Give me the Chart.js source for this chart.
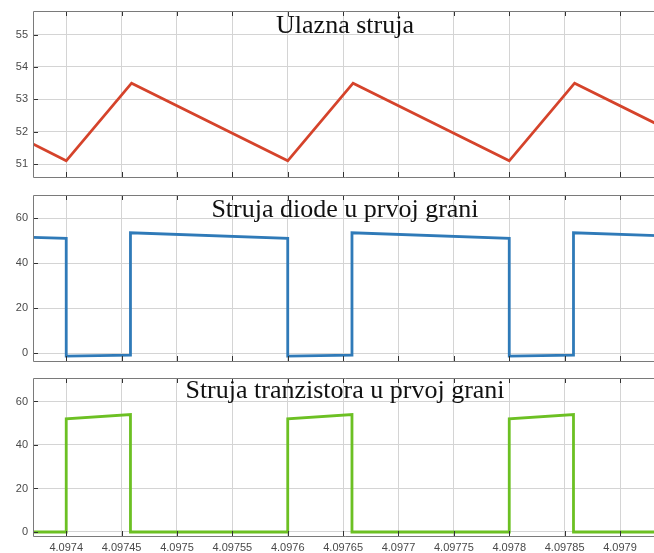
<!DOCTYPE html>
<html>
<head>
<meta charset="utf-8">
<script src="https://cdn.jsdelivr.net/npm/chart.js@4"></script>
<style>
  html, body { margin: 0; padding: 0; background: #fff; overflow: hidden; }
  body { width: 654px; height: 553px; position: relative; }
  .panel { position: absolute; left: 0; width: 660px; }
</style>
</head>
<body>
<div class="panel" style="top:0;height:182px"><canvas id="c1"></canvas></div>
<div class="panel" style="top:184px;height:182px"><canvas id="c2"></canvas></div>
<div class="panel" style="top:367px;height:186px"><canvas id="c3"></canvas></div>
<script>
// time ticks shared by all three panels
const xTicks = [4.0974, 4.09745, 4.0975, 4.09755, 4.0976, 4.09765, 4.0977, 4.09775, 4.0978, 4.09785, 4.0979];
const xTickLabels = ["4.0974", "4.09745", "4.0975", "4.09755", "4.0976", "4.09765", "4.0977", "4.09775", "4.0978", "4.09785", "4.0979"];

// Ulazna struja
const inputTime = [4.09737, 4.0974, 4.097459, 4.0976, 4.097659, 4.0978, 4.097859, 4.09794];
const inputCurrent = [51.62, 51.1, 53.5, 51.1, 53.5, 51.1, 53.5, 52.12];
const inputTicks = [51, 52, 53, 54, 55];

// Struja diode
const diodeTime = [4.09737, 4.0974, 4.0974, 4.097458, 4.097458, 4.0976, 4.0976, 4.097658, 4.097658, 4.0978, 4.0978, 4.097858, 4.097858, 4.09794];
const diodeCurrent = [51.6, 51.1, -1.2, -0.8, 53.6, 51.1, -1.2, -0.8, 53.6, 51.1, -1.2, -0.8, 53.6, 52.2];

// Struja tranzistora
const transTime = [4.09737, 4.0974, 4.0974, 4.097458, 4.097458, 4.0976, 4.0976, 4.097658, 4.097658, 4.0978, 4.0978, 4.097858, 4.097858, 4.09794];
const transCurrent = [0, 0, 52, 54, 0, 0, 52, 54, 0, 0, 52, 54, 0, 0];
const switchTicks = [0, 20, 40, 60];

const frame = {
  id: "frame",
  afterDraw(chart, args, opts) {
    const c = chart.ctx, a = chart.chartArea;
    const xs = chart.scales.x, ys = chart.scales.y;
    c.save();
    c.strokeStyle = "#333";
    c.lineWidth = 1;
    c.beginPath();
    // inward tick marks like the original
    xTicks.forEach(v => {
      const px = Math.round(xs.getPixelForValue(v)) + 0.5;
      c.moveTo(px, a.bottom); c.lineTo(px, a.bottom - 5);
      c.moveTo(px, a.top); c.lineTo(px, a.top + 5);
    });
    opts.yTicks.forEach(v => {
      const py = Math.round(ys.getPixelForValue(v)) + 0.5;
      c.moveTo(a.left, py); c.lineTo(a.left + 5, py);
    });
    c.stroke();
    c.strokeStyle = "#7a7a7a";
    c.beginPath();
    c.moveTo(a.right, Math.round(a.top) + 0.5);
    c.lineTo(Math.round(a.left) + 0.5, Math.round(a.top) + 0.5);
    c.lineTo(Math.round(a.left) + 0.5, Math.round(a.bottom) + 0.5);
    c.lineTo(a.right, Math.round(a.bottom) + 0.5);
    c.stroke();
    c.fillStyle = "#111";
    c.font = "26px 'Liberation Serif'";
    c.textAlign = "center";
    c.textBaseline = "alphabetic";
    c.fillText(opts.title, (a.left + a.right) / 2, a.top + opts.titleOffset);
    c.restore();
  }
};

function makeChart(id, time, values, color, yMin, yMax, yTicks, title, titleOffset, showX) {
  new Chart(document.getElementById(id), {
    type: "line",
    data: {
      datasets: [{
        data: time.map((t, i) => ({ x: t, y: values[i] })),
        borderColor: color,
        borderWidth: 2.8,
        pointRadius: 0,
        tension: 0,
        fill: false
      }]
    },
    options: {
      responsive: true,
      maintainAspectRatio: false,
      animation: false,
      layout: { padding: { top: 11, right: 3, bottom: showX ? 0 : 5, left: 0 } },
      plugins: {
        legend: { display: false },
        tooltip: { enabled: false },
        frame: { title: title, titleOffset: titleOffset, yTicks: yTicks }
      },
      scales: {
        x: {
          type: "linear",
          min: 4.09737,
          max: 4.0979334,
          afterBuildTicks: s => { s.ticks = xTicks.map(v => ({ value: v })); },
          afterFit: s => { s.height = showX ? 17 : 0; s.paddingLeft = 0; s.paddingRight = 0; },
          grid: { color: "#d4d4d4", drawTicks: false },
          border: { display: false },
          ticks: {
            display: showX,
            padding: 5,
            maxRotation: 0,
            autoSkip: false,
            color: "#4a4a4a",
            font: { family: "'Liberation Sans', Arial", size: 11 },
            callback: v => xTickLabels[xTicks.indexOf(v)] || ""
          }
        },
        y: {
          min: yMin,
          max: yMax,
          afterBuildTicks: s => { s.ticks = yTicks.map(v => ({ value: v })); },
          afterFit: s => { s.width = 33; s.paddingTop = 0; s.paddingBottom = 0; },
          grid: { color: "#d4d4d4", drawTicks: false },
          border: { display: false },
          ticks: {
            padding: 5,
            color: "#4a4a4a",
            font: { family: "'Liberation Sans', Arial", size: 11 }
          }
        }
      }
    },
    plugins: [frame]
  });
}

makeChart("c1", inputTime, inputCurrent, "#d5432b", 50.6, 55.73, inputTicks, "Ulazna struja", 22, false);
makeChart("c2", diodeTime, diodeCurrent, "#2f7ab8", -3.4, 70.4, switchTicks, "Struja diode u prvoj grani", 22, false);
makeChart("c3", transTime, transCurrent, "#6cc023", -1.85, 70.8, switchTicks, "Struja tranzistora u prvoj grani", 20, true);
</script>
</body>
</html>
